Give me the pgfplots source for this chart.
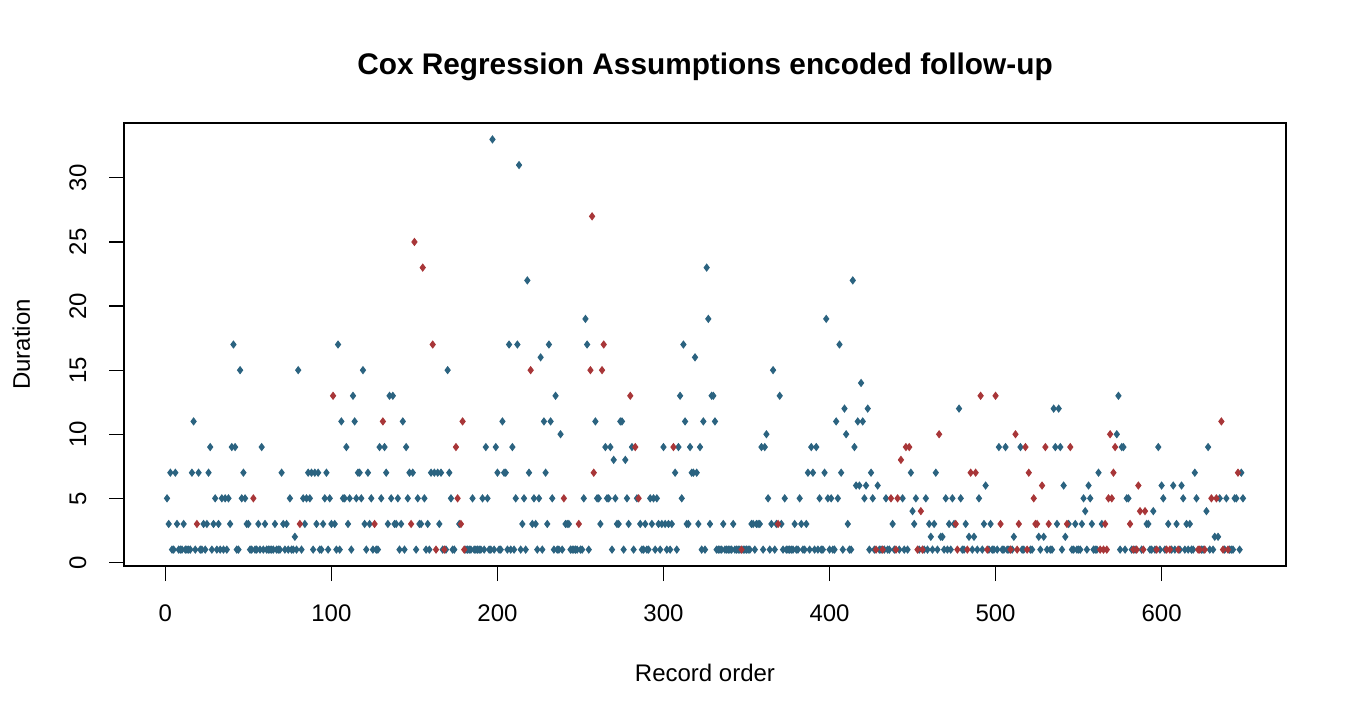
\documentclass[border=0pt]{standalone}
\usepackage{pgfplots}
\pgfplotsset{compat=1.18}
\usepackage{fontspec}
\setmainfont{Liberation Sans}
\definecolor{cb}{RGB}{43,99,128}
\definecolor{cr}{RGB}{168,54,56}
\begin{document}
\begin{tikzpicture}
\path[use as bounding box] (0,0) rectangle (675pt,-360pt);
\begin{axis}[
  at={(62pt,-283pt)}, anchor=south west,
  scale only axis, width=581pt, height=221.5pt,
  xmin=-24.92, xmax=674.92, ymin=-0.28, ymax=34.28,
  xtick={0,100,200,300,400,500,600}, ytick={0,5,10,15,20,25,30},
  xtick pos=bottom, ytick pos=left,
  tick align=outside, major tick length=7.5pt,
  tick style={black, line width=0.6pt},
  axis line style={black, line width=0.6pt},
  /pgf/number format/assume math mode=true,
  tick label style={font=\fontsize{12}{14}\selectfont},
  xticklabel style={anchor=base, yshift=-20.3pt},
  yticklabel style={xshift=-11.5pt, rotate=90, anchor=base},
  title={Cox Regression Assumptions encoded follow-up},
  title style={at={(axis description cs:0.5,1.0835)}, anchor=base, font=\bfseries\fontsize{14.9}{17}\selectfont},
  xlabel={Record order},
  xlabel style={at={(axis description cs:0.5,-0.2596)}, anchor=base, font=\fontsize{12}{14}\selectfont},
  ylabel={Duration},
  ylabel style={at={(axis description cs:-0.0809,0.5)}, anchor=base, font=\fontsize{12}{14}\selectfont},
  clip=false,
]
\addplot[only marks, mark=diamond*, mark size=1.7pt, mark options={draw=cb, fill=cb, line width=0.5pt}] coordinates {
(1,5)(2,3)(3,7)(4,1)(5,1)(6,7)(7,3)(8,1)(9,1)(10,1)
(11,3)(12,1)(13,1)(14,1)(15,1)(16,7)(17,11)(18,1)(20,7)
(21,1)(22,1)(23,3)(24,1)(25,3)(26,7)(27,9)(28,1)(29,3)(30,5)
(31,1)(32,3)(33,1)(34,5)(35,1)(36,5)(37,1)(38,5)(39,3)(40,9)
(41,17)(42,9)(43,1)(44,1)(45,15)(46,5)(47,7)(48,5)(49,3)(50,3)
(51,1)(52,1)(54,1)(55,1)(56,3)(57,1)(58,9)(59,1)(60,3)
(61,1)(62,1)(63,1)(64,1)(65,1)(66,3)(67,1)(68,1)(69,1)(70,7)
(71,3)(72,1)(73,3)(74,1)(75,5)(76,1)(77,1)(78,2)(79,1)(80,15)
(82,1)(83,5)(84,3)(85,5)(86,7)(87,5)(88,7)(89,1)(90,7)
(91,3)(92,7)(93,1)(94,1)(95,3)(96,5)(97,7)(98,1)(99,5)(100,3)
(102,3)(103,1)(104,17)(105,1)(106,11)(107,5)(108,5)(109,9)(110,3)
(111,5)(112,1)(113,13)(114,11)(115,5)(116,7)(117,7)(118,5)(119,15)(120,3)
(121,1)(122,7)(123,3)(124,5)(125,1)(127,1)(128,1)(129,9)(130,5)
(132,9)(133,7)(134,3)(135,13)(136,5)(137,13)(138,3)(139,3)(140,5)
(141,1)(142,3)(143,11)(144,1)(145,9)(146,5)(147,7)(149,7)
(151,1)(152,5)(153,3)(154,3)(156,5)(157,1)(158,3)(159,1)(160,7)
(162,7)(164,7)(165,3)(166,7)(167,1)(169,1)(170,15)
(171,7)(172,5)(173,1)(174,1)(177,3)
(181,1)(182,1)(183,1)(184,1)(185,5)(186,1)(187,1)(188,1)(189,1)(190,1)
(191,5)(192,1)(193,9)(194,5)(195,1)(196,1)(197,33)(198,1)(199,9)(200,7)
(201,1)(202,1)(203,11)(204,7)(205,7)(206,1)(207,17)(208,1)(209,9)(210,1)
(211,5)(212,17)(213,31)(214,1)(215,3)(216,5)(217,1)(218,22)(219,7)
(221,3)(222,5)(223,3)(224,1)(225,5)(226,16)(227,1)(228,11)(229,7)(230,3)
(231,17)(232,11)(233,5)(234,1)(235,13)(236,1)(237,1)(238,10)(239,1)
(241,3)(242,3)(243,3)(244,1)(245,1)(246,1)(247,1)(248,1)(250,1)
(251,1)(252,5)(253,19)(254,17)(255,1)(259,11)(260,5)
(261,5)(262,3)(265,9)(266,5)(267,5)(268,9)(269,1)(270,8)
(271,5)(272,3)(273,3)(274,11)(275,11)(276,1)(277,8)(278,5)(279,3)
(281,9)(282,1)(284,5)(286,3)(287,1)(288,1)(289,3)(290,1)
(291,1)(292,5)(293,3)(294,5)(295,1)(296,5)(297,3)(298,1)(299,3)(300,9)
(301,3)(302,1)(303,3)(304,1)(305,3)(307,7)(308,1)(309,9)(310,13)
(311,5)(312,17)(313,11)(314,3)(315,3)(316,9)(317,7)(318,7)(319,16)(320,7)
(321,3)(322,9)(323,1)(324,11)(325,1)(326,23)(327,19)(328,3)(329,13)(330,13)
(331,11)(332,1)(333,1)(334,1)(335,1)(336,3)(337,1)(338,1)(339,1)(340,1)
(341,1)(342,3)(343,1)(344,1)(345,1)(346,1)(348,1)(349,1)(350,1)
(351,1)(352,1)(353,3)(354,3)(355,1)(356,3)(357,3)(358,3)(359,9)(360,1)
(361,9)(362,10)(363,5)(364,1)(365,3)(366,15)(367,1)(368,3)(370,13)
(371,3)(372,1)(373,5)(374,1)(375,1)(376,1)(377,1)(378,1)(379,3)(380,1)
(381,1)(382,5)(383,3)(384,1)(385,1)(386,3)(387,7)(388,1)(389,9)(390,7)
(391,1)(392,9)(393,1)(394,5)(395,1)(396,1)(397,7)(398,19)(399,5)(400,1)
(401,5)(402,1)(403,1)(404,11)(405,5)(406,17)(407,7)(408,1)(409,12)(410,10)
(411,3)(412,1)(413,1)(414,22)(415,9)(416,6)(417,11)(418,6)(419,14)(420,11)
(421,5)(422,6)(423,12)(424,1)(425,7)(426,5)(427,1)(429,6)(430,1)
(431,1)(433,1)(434,5)(435,1)(436,1)(438,3)(439,1)
(442,1)(444,5)(445,1)(447,1)(449,7)(450,4)
(451,3)(452,5)(454,1)(457,1)(458,5)(459,1)(460,3)
(461,2)(462,1)(463,3)(464,7)(465,1)(467,2)(468,2)(469,1)(470,5)
(471,1)(472,3)(473,1)(474,5)(475,3)(478,12)(479,5)(480,1)
(481,1)(482,3)(484,2)(486,1)(487,2)(489,1)(490,5)
(492,1)(493,3)(494,6)(496,1)(497,3)(498,1)(499,1)
(501,1)(502,9)(504,1)(505,1)(506,9)(507,1)(508,1)(510,1)
(511,2)(515,9)(516,1)(517,1)
(521,1)(522,1)(526,2)(527,1)(529,2)
(531,1)(533,1)(534,1)(535,12)(536,9)(537,3)(538,12)(539,9)(540,1)
(541,6)(542,2)(544,3)(546,1)(547,1)(548,3)(549,1)(550,1)
(551,1)(552,3)(553,5)(554,4)(555,1)(556,6)(557,5)(558,3)(559,1)(560,1)
(561,1)(562,7)(564,3)
(573,10)(574,13)(575,1)(576,9)(577,9)(578,1)(579,5)(580,5)
(582,1)(584,1)(588,1)
(591,3)(592,3)(593,1)(594,1)(595,4)(596,1)(598,9)(599,1)(600,6)
(601,5)(602,1)(604,3)(606,1)(607,6)(608,1)(609,3)
(611,1)(612,6)(613,5)(614,1)(615,3)(616,1)(617,3)(618,1)(619,1)(620,7)
(621,5)(624,1)(625,1)(627,4)(628,9)(629,1)
(631,1)(632,2)(634,2)(635,5)(638,1)(639,5)
(641,1)(642,1)(643,1)(644,5)(645,5)(647,1)(648,7)(649,5)
};
\addplot[only marks, mark=diamond*, mark size=1.7pt, mark options={draw=cr, fill=cr, line width=0.5pt}] coordinates {
(19,3)(53,5)(81,3)(101,13)(126,3)(131,11)(148,3)(150,25)(155,23)(161,17)
(163,1)(168,1)(175,9)(176,5)(178,3)(179,11)(180,1)(220,15)(240,5)(249,3)
(256,15)(257,27)(258,7)(263,15)(264,17)(280,13)(283,9)(285,5)(306,9)(347,1)
(369,3)(428,1)(432,1)(437,5)(440,1)(441,5)(443,8)(446,9)(448,9)(453,1)
(455,4)(456,1)(466,10)(476,3)(477,1)(483,1)(485,7)(488,7)(491,13)(495,1)
(500,13)(503,3)(509,1)(512,10)(513,1)(514,3)(518,9)(519,1)(520,7)(523,5)
(524,3)(525,3)(528,6)(530,9)(532,3)(543,3)(545,9)(563,1)(565,1)(566,3)
(567,1)(568,5)(569,10)(570,5)(571,7)(572,9)(581,3)(583,1)(585,1)(586,6)
(587,4)(589,1)(590,4)(597,1)(603,1)(605,1)(610,1)(622,1)(623,1)(626,1)
(630,5)(633,5)(636,11)(637,1)(640,1)(646,7)
};
\end{axis}
\end{tikzpicture}
\end{document}
